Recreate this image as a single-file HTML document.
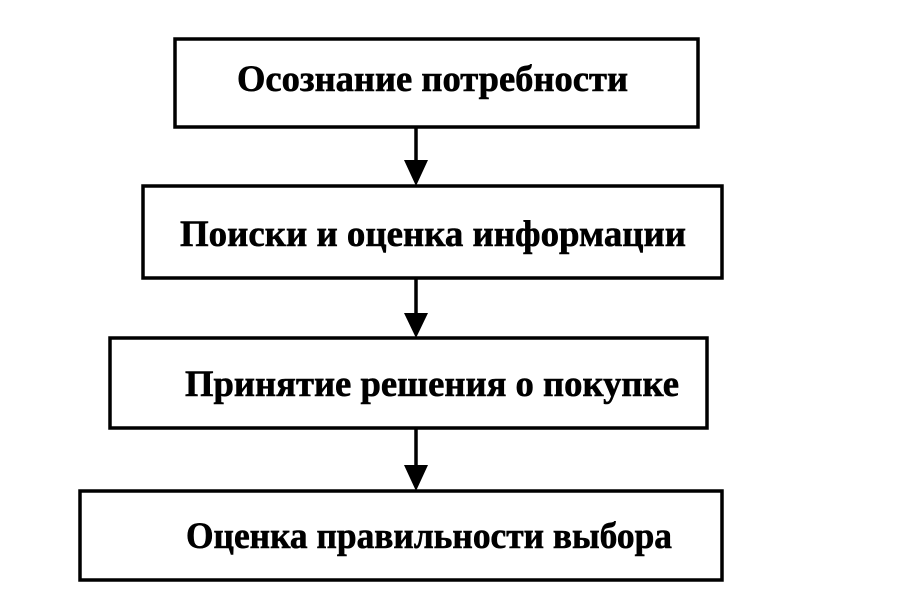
<!DOCTYPE html>
<html><head><meta charset="utf-8"><style>html,body{margin:0;padding:0;background:#fff}</style></head>
<body>
<svg width="920" height="586" viewBox="0 0 920 586" xmlns="http://www.w3.org/2000/svg">
<g fill="none" stroke="#000" stroke-width="3.5">
<rect x="175" y="39" width="523" height="88"/>
<rect x="143" y="186" width="579" height="92"/>
<rect x="110" y="338" width="597" height="90"/>
<rect x="80" y="491" width="642" height="89"/>
<line x1="416" y1="127" x2="416" y2="165"/>
<line x1="416" y1="278" x2="416" y2="318"/>
<line x1="416" y1="428" x2="416" y2="470"/>
</g>
<g fill="#000">
<polygon points="404,160 428,160 416,186"/>
<polygon points="404,313 428,313 416,338"/>
<polygon points="404,465 428,465 416,491"/>
</g>
<g font-family="Liberation Serif, serif" font-weight="bold" font-size="37" fill="#000" stroke="#000" stroke-width="0.6">
<text x="237" y="91" textLength="391" lengthAdjust="spacingAndGlyphs">Осознание потребности</text>
<text x="180" y="246" textLength="506" lengthAdjust="spacingAndGlyphs">Поиски и оценка информации</text>
<text x="185" y="396" textLength="494" lengthAdjust="spacingAndGlyphs">Принятие решения о покупке</text>
<text x="186" y="548" textLength="486" lengthAdjust="spacingAndGlyphs">Оценка правильности выбора</text>
</g>
</svg>
</body></html>
